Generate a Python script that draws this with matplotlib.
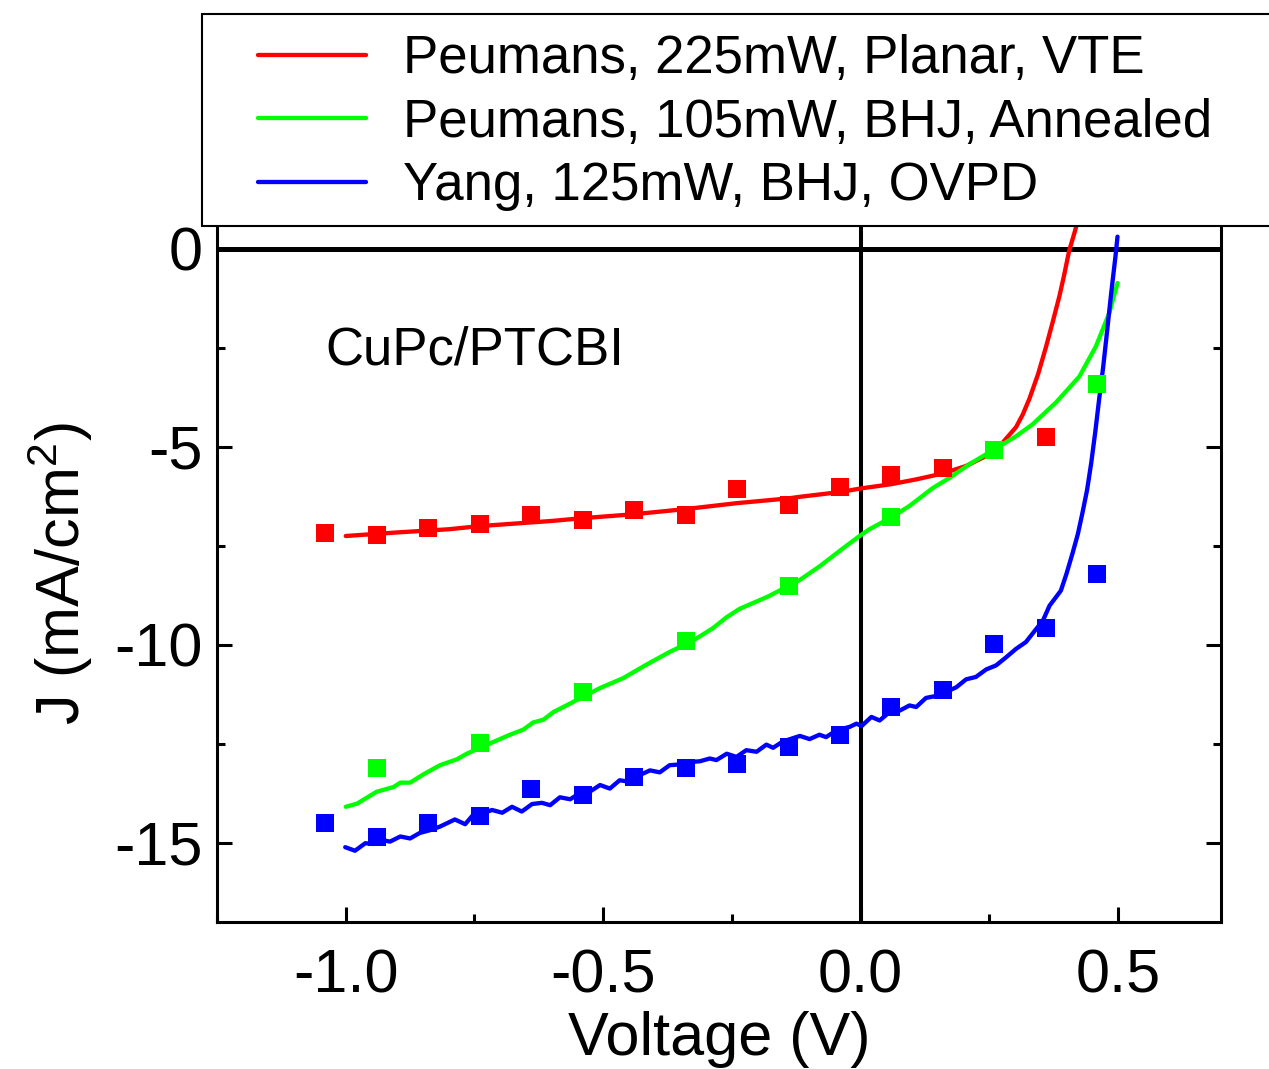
import matplotlib
matplotlib.use("Agg")
import matplotlib.pyplot as plt
from matplotlib.ticker import MultipleLocator, FormatStrFormatter
from matplotlib.patches import Rectangle

plt.rcParams['font.family'] = ['Liberation Sans', 'DejaVu Sans']
plt.rcParams['axes.unicode_minus'] = False
plt.rcParams['mathtext.default'] = 'regular'

# measured points (squares)
red_x = [-1.04, -0.94, -0.84, -0.74, -0.64, -0.54, -0.44, -0.34, -0.24, -0.14, -0.04, 0.06, 0.16, 0.26, 0.36]
red_y = [-7.18, -7.23, -7.05, -6.95, -6.73, -6.85, -6.60, -6.73, -6.07, -6.47, -6.00, -5.72, -5.54, -5.08, -4.74]

green_x = [-0.94, -0.74, -0.54, -0.34, -0.14, 0.06, 0.26, 0.46]
green_y = [-13.10, -12.49, -11.18, -9.90, -8.51, -6.78, -5.09, -3.40]

blue_x = [-1.04, -0.94, -0.84, -0.74, -0.64, -0.54, -0.44, -0.34, -0.24, -0.14, -0.04, 0.06, 0.16, 0.26, 0.36, 0.46]
blue_y = [-14.50, -14.86, -14.50, -14.33, -13.63, -13.80, -13.35, -13.12, -13.02, -12.57, -12.27, -11.56, -11.13, -9.97, -9.57, -8.21]

# fitted / model curves
red_line_x = [-1.00, -0.90, -0.80, -0.74, -0.60, -0.54, -0.44, -0.34, -0.24, -0.14, -0.118, -0.04, 0.00,
              0.06, 0.108, 0.160, 0.205, 0.244, 0.276, 0.302, 0.315, 0.328, 0.345, 0.360, 0.373, 0.386,
              0.395, 0.405, 0.417, 0.425]
red_line_y = [-7.25, -7.16, -7.08, -7.00, -6.87, -6.80, -6.70, -6.57, -6.42, -6.30, -6.26, -6.14, -6.05,
              -5.94, -5.82, -5.67, -5.48, -5.23, -4.89, -4.50, -4.18, -3.78, -3.15, -2.48, -1.85, -1.20,
              -0.68, -0.05, 0.48, 0.90]

green_line_x = [-1.000, -0.978, -0.940, -0.907, -0.894, -0.875, -0.849, -0.817, -0.784, -0.765, -0.720,
                -0.681, -0.655, -0.636, -0.616, -0.597, -0.558, -0.506, -0.461, -0.416, -0.371, -0.325,
                -0.287, -0.260, -0.235, -0.180, -0.140, -0.118, -0.080, -0.034, -0.002, 0.017, 0.060,
                0.095, 0.140, 0.173, 0.211, 0.260, 0.302, 0.334, 0.380, 0.425, 0.457, 0.483, 0.499]
green_line_y = [-14.09, -14.01, -13.71, -13.59, -13.48, -13.48, -13.27, -13.04, -12.89, -12.75, -12.49,
                -12.27, -12.14, -11.96, -11.89, -11.70, -11.44, -11.09, -10.84, -10.50, -10.18, -9.89,
                -9.58, -9.30, -9.09, -8.78, -8.51, -8.36, -8.02, -7.56, -7.25, -7.08, -6.78,
                -6.49, -6.04, -5.78, -5.44, -5.06, -4.73, -4.43, -3.87, -3.22, -2.46, -1.62, -0.86]

blue_line_x = [-1.001, -0.982, -0.962, -0.947, -0.929, -0.914, -0.894, -0.875, -0.856, -0.836, -0.817,
               -0.788, -0.768, -0.753, -0.733, -0.716, -0.696, -0.677, -0.658, -0.638, -0.619, -0.603,
               -0.584, -0.564, -0.545, -0.525, -0.506, -0.487, -0.468, -0.448, -0.429, -0.409, -0.390,
               -0.371, -0.351, -0.332, -0.312, -0.293, -0.280, -0.260, -0.241, -0.222, -0.202, -0.183,
               -0.170, -0.151, -0.118, -0.099, -0.080, -0.067, -0.047, -0.021, -0.008, 0.002, 0.021,
               0.037, 0.056, 0.076, 0.095, 0.108, 0.127, 0.147, 0.166, 0.186, 0.205, 0.224, 0.244,
               0.263, 0.283, 0.302, 0.321, 0.341, 0.354, 0.367, 0.389, 0.400, 0.412, 0.422, 0.431,
               0.440, 0.448, 0.456, 0.464, 0.471, 0.477, 0.486, 0.495, 0.499]
blue_line_y = [-15.11, -15.20, -15.01, -15.03, -14.93, -14.97, -14.84, -14.89, -14.75, -14.68, -14.59,
               -14.41, -14.53, -14.30, -14.26, -14.17, -14.24, -14.09, -14.21, -14.02, -13.99, -14.05,
               -13.85, -13.90, -13.74, -13.70, -13.54, -13.63, -13.42, -13.46, -13.29, -13.17, -13.22,
               -13.04, -13.02, -12.96, -12.94, -12.87, -12.91, -12.75, -12.83, -12.66, -12.70, -12.52,
               -12.60, -12.44, -12.30, -12.38, -12.27, -12.33, -12.16, -12.07, -11.99, -12.05, -11.82,
               -11.91, -11.70, -11.66, -11.53, -11.57, -11.34, -11.29, -11.19, -11.07, -10.87, -10.81, -10.62,
               -10.52, -10.31, -10.10, -9.93, -9.60, -9.39, -9.01, -8.63, -8.20, -7.67, -7.20, -6.66,
               -6.08, -5.40, -4.60, -3.72, -3.00, -2.29, -1.20, -0.19, 0.31]

labels = ['Peumans, 225mW, Planar, VTE', 'Peumans, 105mW, BHJ, Annealed', 'Yang, 125mW, BHJ, OVPD']
colors = ['#ff0000', '#00ff00', '#0000ff']

W, H = 1269, 1069
fig = plt.figure(figsize=(W / 100, H / 100), dpi=100)
ax = fig.add_axes([217 / W, 147 / H, (1221 - 217) / W, (922 - 226) / H])

ax.axhline(0, color='k', lw=3.6, zorder=1)
ax.axvline(0, color='k', lw=2.9, zorder=1)

lines = []
for lx, ly, c, lab in [(red_line_x, red_line_y, colors[0], labels[0]),
                       (green_line_x, green_line_y, colors[1], labels[1]),
                       (blue_line_x, blue_line_y, colors[2], labels[2])]:
    ln, = ax.plot(lx, ly, color=c, lw=3.1, label=lab, zorder=2,
                  solid_joinstyle='round', solid_capstyle='round')
    lines.append(ln)

ax.plot(red_x, red_y, 's', color=colors[0], ms=12.8, mew=0, zorder=3)
ax.plot(green_x, green_y, 's', color=colors[1], ms=12.8, mew=0, zorder=3)
ax.plot(blue_x, blue_y, 's', color=colors[2], ms=12.8, mew=0, zorder=3)

ax.text(-1.04, -2.92, 'CuPc/PTCBI', fontsize=38, ha='left', va='baseline')

ax.set_xlim(-1.25, 0.7)
ax.set_ylim(-17, 0.58)
ax.xaxis.set_major_locator(MultipleLocator(0.5))
ax.xaxis.set_minor_locator(MultipleLocator(0.25))
ax.yaxis.set_major_locator(MultipleLocator(5))
ax.yaxis.set_minor_locator(MultipleLocator(2.5))
ax.xaxis.set_major_formatter(FormatStrFormatter('%.1f'))
ax.yaxis.set_major_formatter(FormatStrFormatter('%d'))

for s in ['left', 'right', 'bottom']:
    ax.spines[s].set_linewidth(2.2)
ax.spines['top'].set_visible(False)

ax.tick_params(which='both', direction='in', right=True, top=False, width=2.2, labelsize=44)
ax.tick_params(which='major', length=11)
ax.tick_params(which='minor', length=6)
ax.tick_params(axis='x', pad=19)
ax.tick_params(axis='y', pad=10)

ax.set_xlabel('Voltage (V)', fontsize=44, labelpad=4)
ax.set_ylabel('J (mA/cm$^2$)', fontsize=44, labelpad=14)

# legend box sits above the plot, spanning past the right edge
fig.add_artist(Rectangle((202 / W, 1 - 226 / H), (1290 - 202) / W, (226 - 14) / H,
                         transform=fig.transFigure, facecolor='white', edgecolor='black', lw=1.5))
fig.legend(handles=lines, loc='upper left', bbox_to_anchor=(258 / W, 1 - 34 / H),
           frameon=False, fontsize=38, borderpad=0, borderaxespad=0,
           handlelength=2.05, handletextpad=0.7, labelspacing=0.26)

fig.savefig('out.png', dpi=100)
